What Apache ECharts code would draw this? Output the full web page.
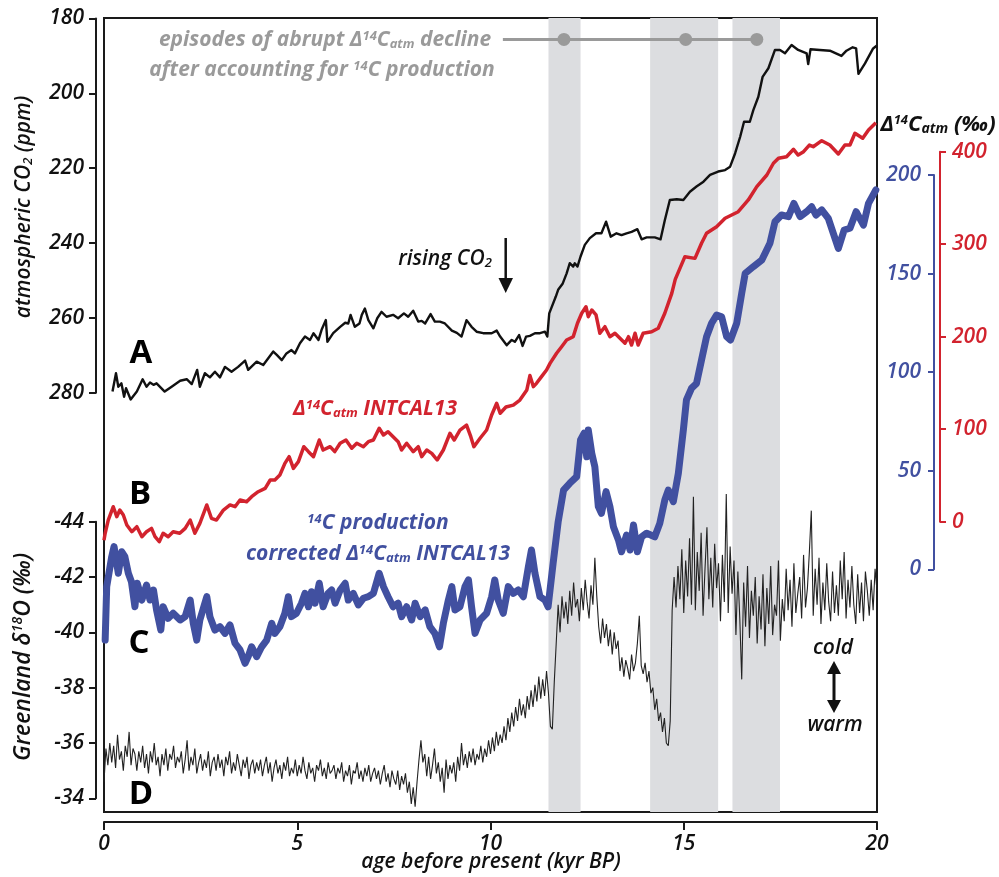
<!DOCTYPE html>
<html><head><meta charset="utf-8">
<script src="https://cdn.jsdelivr.net/npm/echarts@6/dist/echarts.min.js"></script>
<style>html,body{margin:0;padding:0;background:#fff}#c{width:999px;height:877px}</style>
</head><body><div id="c"></div>
<script>
// ---- data (age in kyr BP) ----
const co2 = [[0.22,279.7],[0.31,274.8],[0.37,278.4],[0.45,277.5],[0.52,281.1],[0.57,278.8],[0.69,281.8],[0.85,279.7],[1.0,276.4],[1.1,278.4],[1.19,277.3],[1.28,277.9],[1.36,277.5],[1.57,279.7],[1.75,278.4],[1.97,276.8],[2.14,276.4],[2.27,277.7],[2.41,273.9],[2.48,278.4],[2.61,274.8],[2.74,275.9],[2.87,274.4],[3.0,275.9],[3.13,273.1],[3.3,274.4],[3.47,273.1],[3.65,271.4],[3.73,273.9],[3.95,271.7],[4.12,272.6],[4.25,270.8],[4.38,269.0],[4.47,269.9],[4.6,271.3],[4.72,269.5],[4.85,268.6],[4.94,269.5],[5.07,266.8],[5.2,265.0],[5.33,265.9],[5.42,264.1],[5.55,265.9],[5.63,263.2],[5.74,260.6],[5.78,266.4],[5.93,264.1],[6.11,262.4],[6.24,261.3],[6.32,261.5],[6.38,259.2],[6.49,262.4],[6.61,261.5],[6.67,259.2],[6.75,257.5],[6.84,260.6],[6.97,262.8],[7.07,260.1],[7.18,258.4],[7.31,259.7],[7.48,259.2],[7.61,260.1],[7.76,258.8],[7.87,259.7],[8.0,258.1],[8.13,261.0],[8.22,260.8],[8.31,261.5],[8.45,259.0],[8.56,261.0],[8.69,261.0],[8.82,261.5],[9.0,263.4],[9.13,264.0],[9.25,265.0],[9.38,260.6],[9.51,262.4],[9.64,263.7],[9.81,264.1],[10.03,264.1],[10.16,263.4],[10.25,265.0],[10.42,267.3],[10.55,265.9],[10.63,266.4],[10.74,264.6],[10.83,267.5],[10.92,265.0],[11.02,264.8],[11.15,264.1],[11.28,264.1],[11.41,263.7],[11.47,265.0],[11.52,258.8],[11.69,254.3],[11.75,252.5],[11.87,250.8],[11.97,248.1],[12.05,245.4],[12.14,246.3],[12.18,245.4],[12.25,246.3],[12.33,243.6],[12.44,240.5],[12.57,238.7],[12.73,237.4],[12.87,237.4],[12.99,234.3],[13.11,238.3],[13.26,237.4],[13.39,237.9],[13.52,237.4],[13.65,237.0],[13.8,236.3],[13.91,239.0],[14.04,238.5],[14.25,238.5],[14.4,239.0],[14.51,233.9],[14.64,228.5],[14.82,228.3],[14.99,228.5],[15.16,226.3],[15.33,224.9],[15.51,223.6],[15.68,221.8],[15.89,220.9],[16.07,220.5],[16.2,219.6],[16.33,216.0],[16.46,211.6],[16.56,207.6],[16.71,207.6],[16.8,204.5],[16.93,200.9],[17.04,195.6],[17.19,193.3],[17.36,188.4],[17.49,188.4],[17.62,189.3],[17.79,187.1],[17.96,188.4],[18.18,189.3],[18.22,192.2],[18.28,188.2],[18.52,188.4],[18.78,188.6],[19.08,190.0],[19.21,188.6],[19.37,187.7],[19.46,188.0],[19.52,194.8],[19.69,192.0],[19.9,188.0],[19.99,187.3]];

const d14cIntcal = [[0.0,-20],[0.03,-12.5],[0.11,1.8],[0.24,16.2],[0.33,5.4],[0.41,12.6],[0.5,7.2],[0.59,-3.6],[0.72,-10.8],[0.85,-5.4],[0.98,-16.2],[1.1,-10.8],[1.23,-7.2],[1.32,-16.2],[1.43,-21.6],[1.53,-12.5],[1.66,-16.2],[1.79,-10.8],[1.96,-12.5],[2.1,-7.2],[2.23,1.8],[2.35,-12.5],[2.48,-1.8],[2.66,18.1],[2.78,3.7],[2.91,1.8],[3.09,12.6],[3.26,18.1],[3.39,16.2],[3.52,23.5],[3.69,21.6],[3.82,27.0],[3.99,32.4],[4.17,36.1],[4.3,45.1],[4.42,45.1],[4.55,50.5],[4.68,63.1],[4.79,70.3],[4.9,57.7],[5.03,64.9],[5.17,81.1],[5.29,75.7],[5.42,70.3],[5.57,88.3],[5.67,77.5],[5.85,81.1],[5.97,75.7],[6.11,84.8],[6.26,88.3],[6.41,79.4],[6.54,84.8],[6.71,81.1],[6.84,86.5],[6.97,88.3],[7.12,101.0],[7.23,93.7],[7.35,97.3],[7.48,91.9],[7.61,86.5],[7.7,77.5],[7.83,84.8],[8.0,75.7],[8.13,81.1],[8.22,70.3],[8.35,77.5],[8.48,73.9],[8.62,66.7],[8.78,77.5],[8.95,95.6],[9.06,88.3],[9.21,99.1],[9.38,104.5],[9.49,91.9],[9.57,81.1],[9.73,90.2],[9.9,99.1],[10.03,115.4],[10.16,128.0],[10.25,117.2],[10.4,124],[10.59,126],[10.76,131.5],[10.94,142.4],[11.02,158],[11.11,146],[11.19,149.6],[11.32,156.8],[11.45,164],[11.54,171.2],[11.71,182.1],[11.84,189.2],[11.97,196.4],[12.14,200],[12.25,214.5],[12.36,225.3],[12.47,232.4],[12.53,221.6],[12.62,228.9],[12.73,223.5],[12.83,203.7],[12.96,210.8],[13.09,200],[13.22,203.7],[13.35,198.3],[13.48,192.9],[13.57,200],[13.65,191],[13.74,203.7],[13.82,191],[13.95,203.7],[14.17,205.4],[14.34,209.1],[14.51,225.3],[14.69,246.9],[14.78,262],[15.03,286.5],[15.29,284.7],[15.46,301],[15.59,311.8],[15.85,318.9],[16.07,328],[16.24,331.6],[16.41,335.1],[16.67,347.8],[16.89,362.2],[17.15,374.8],[17.32,387.5],[17.45,392.9],[17.66,394.6],[17.84,402.6],[17.96,396.4],[18.1,400],[18.25,407.2],[18.35,405.4],[18.57,411.9],[18.78,407.2],[19.0,397.5],[19.17,407.2],[19.3,407.2],[19.43,419.9],[19.63,414.5],[19.78,423.5],[19.97,431.4]];

const d14cCorrected = [[0.03,-35.9],[0.07,-8.8],[0.2,6.4],[0.26,11.5],[0.37,-2.0],[0.46,8.9],[0.54,6.4],[0.63,-2.0],[0.71,-6.3],[0.8,-19.0],[0.86,-7.1],[0.98,-15.6],[1.1,-8.0],[1.19,-15.6],[1.28,-10.5],[1.36,-20.6],[1.47,-30.8],[1.53,-19.0],[1.66,-24.9],[1.79,-22.3],[1.97,-25.7],[2.1,-24.0],[2.23,-15.6],[2.31,-27.4],[2.4,-35.9],[2.48,-25.7],[2.66,-13.9],[2.74,-24.0],[2.87,-30.8],[3.0,-29.1],[3.13,-32.5],[3.26,-28.2],[3.39,-37.5],[3.52,-40.9],[3.65,-47.7],[3.73,-44.3],[3.82,-39.3],[3.95,-44.3],[4.08,-39.3],[4.21,-35.9],[4.34,-27.4],[4.42,-32.5],[4.55,-29.1],[4.68,-22.3],[4.77,-13.9],[4.85,-24.0],[4.98,-22.3],[5.11,-17.2],[5.2,-12.2],[5.29,-19.0],[5.37,-11.4],[5.46,-17.2],[5.57,-7.1],[5.67,-19.0],[5.8,-12.2],[5.89,-10.5],[5.98,-17.2],[6.11,-10.5],[6.24,-7.1],[6.32,-15.6],[6.45,-12.2],[6.58,-18.1],[6.71,-14.7],[6.84,-13.9],[6.97,-12.2],[7.12,-2.0],[7.23,-8.8],[7.35,-13.9],[7.48,-19.0],[7.61,-17.2],[7.7,-24.0],[7.83,-19.0],[7.96,-25.7],[8.05,-17.2],[8.18,-24.0],[8.31,-20.6],[8.43,-29.1],[8.56,-32.5],[8.68,-39.3],[8.78,-27.4],[8.91,-15.6],[9.0,-8.8],[9.08,-20.6],[9.21,-19.0],[9.34,-8.8],[9.43,-5.4],[9.51,-19.0],[9.6,-32.5],[9.73,-25.7],[9.9,-22.3],[10.03,-13.9],[10.11,-5.4],[10.2,-15.6],[10.33,-22.3],[10.46,-8.8],[10.59,-12.2],[10.72,-10.5],[10.85,-13.9],[10.98,1.3],[11.06,9.8],[11.15,-2.0],[11.28,-13.9],[11.41,-15.6],[11.49,-19.0],[11.62,3],[11.75,24],[11.89,40.2],[12.05,43.6],[12.23,47.0],[12.33,65.6],[12.42,69.0],[12.49,57.1],[12.53,70.7],[12.62,58.8],[12.7,52.0],[12.79,31.8],[12.87,28.4],[12.99,39.4],[13.09,31.8],[13.18,21.6],[13.31,14.9],[13.39,8.9],[13.52,17.4],[13.61,9.8],[13.7,22.5],[13.8,8.9],[13.91,16.5],[14.04,18.3],[14.25,16.5],[14.38,23.3],[14.51,35.2],[14.6,40.2],[14.73,34.3],[14.86,48.7],[14.99,70.7],[15.07,85.9],[15.2,91.8],[15.33,94.3],[15.46,106.2],[15.59,118.0],[15.72,124.8],[15.85,129.0],[15.98,128.1],[16.11,118.0],[16.21,116.3],[16.37,124.8],[16.5,140],[16.59,150.1],[16.8,153.5],[17.02,156.9],[17.23,165.4],[17.36,176.3],[17.53,179.7],[17.71,178.9],[17.85,185.6],[18.01,178.9],[18.18,181.4],[18.31,183.9],[18.42,179.7],[18.57,182.3],[18.74,178.0],[18.87,170.4],[19.0,162.8],[19.15,172.1],[19.3,173.0],[19.46,181.4],[19.65,174.6],[19.78,185.6],[19.97,192.4]];

const d18o = [
[0,-34.6],[0.05,-35.8],[0.1,-35.2],[0.15,-36.0],[0.2,-35.3],[0.25,-35.9],[0.3,-35.1],[0.35,-36.3],[0.4,-35.4],[0.45,-35.7],[0.5,-35.0],[0.55,-35.9],[0.6,-35.5],[0.65,-36.4],[0.7,-35.2],[0.75,-35.8],[0.8,-35.6],[0.85,-35.0],[0.9,-35.7],[0.95,-35.3],
[1,-35.9],[1.05,-35.1],[1.1,-35.6],[1.15,-34.9],[1.2,-35.7],[1.25,-35.3],[1.3,-36.0],[1.35,-35.2],[1.4,-35.5],[1.45,-34.8],[1.5,-35.6],[1.55,-35.2],[1.6,-35.8],[1.65,-35.0],[1.7,-35.6],[1.75,-35.4],[1.8,-35.9],[1.85,-35.1],[1.9,-35.5],[1.95,-35.3],
[2,-35.7],[2.05,-34.9],[2.1,-35.4],[2.15,-36.1],[2.2,-35.0],[2.25,-35.5],[2.3,-35.2],[2.35,-35.8],[2.4,-34.9],[2.45,-35.3],[2.5,-35.6],[2.55,-35.0],[2.6,-35.4],[2.65,-35.1],[2.7,-35.7],[2.75,-34.8],[2.8,-35.3],[2.85,-35.5],[2.9,-35.0],[2.95,-35.6],
[3,-35.1],[3.05,-35.4],[3.1,-34.8],[3.15,-35.5],[3.2,-35.2],[3.25,-35.7],[3.3,-34.9],[3.35,-35.3],[3.4,-35.0],[3.45,-35.6],[3.5,-35.2],[3.55,-34.8],[3.6,-35.4],[3.65,-35.1],[3.7,-35.5],[3.75,-34.7],[3.8,-35.2],[3.85,-35.4],[3.9,-34.9],[3.95,-35.3],
[4,-35.0],[4.05,-35.4],[4.1,-34.8],[4.15,-35.2],[4.2,-35.5],[4.25,-34.9],[4.3,-35.3],[4.35,-34.6],[4.4,-35.1],[4.45,-35.4],[4.5,-34.9],[4.55,-35.2],[4.6,-34.7],[4.65,-35.3],[4.7,-35.0],[4.75,-35.5],[4.8,-34.8],[4.85,-35.1],[4.9,-34.9],[4.95,-35.4],
[5,-34.8],[5.05,-35.2],[5.1,-34.9],[5.15,-35.5],[5.2,-35.0],[5.25,-34.7],[5.3,-35.3],[5.35,-34.9],[5.4,-35.1],[5.45,-34.6],[5.5,-35.2],[5.55,-35.0],[5.6,-35.4],[5.65,-34.8],[5.7,-35.1],[5.75,-34.7],[5.8,-35.3],[5.85,-34.9],[5.9,-35.0],[5.95,-35.2],
[6,-34.7],[6.05,-35.1],[6.1,-34.9],[6.15,-35.3],[6.2,-34.6],[6.25,-35.0],[6.3,-34.8],[6.35,-35.2],[6.4,-34.5],[6.45,-35.0],[6.5,-34.9],[6.55,-35.3],[6.6,-34.7],[6.65,-35.0],[6.7,-34.6],[6.75,-35.1],[6.8,-34.8],[6.85,-35.2],[6.9,-34.6],[6.95,-34.9],
[7,-35.1],[7.05,-34.7],[7.1,-35.0],[7.15,-34.5],[7.2,-34.9],[7.25,-35.2],[7.3,-34.6],[7.35,-34.9],[7.4,-34.4],[7.45,-35.0],[7.5,-34.7],[7.55,-34.5],[7.6,-35.0],[7.65,-34.3],[7.7,-34.8],[7.75,-34.5],[7.8,-34.9],[7.85,-34.2],[7.9,-34.6],[7.95,-33.8],
[8,-34.4],[8.05,-33.7],[8.1,-34.6],[8.15,-35.4],[8.2,-36.1],[8.25,-35.3],[8.3,-35.6],[8.35,-34.8],[8.4,-35.5],[8.45,-34.7],[8.5,-35.2],[8.55,-35.8],[8.6,-34.9],[8.65,-35.3],[8.7,-34.6],[8.75,-35.1],[8.8,-34.2],[8.85,-35.4],[8.9,-34.7],[8.95,-35.2],
[9,-34.9],[9.05,-35.3],[9.1,-34.6],[9.15,-35.5],[9.2,-35.0],[9.25,-36.0],[9.3,-35.2],[9.35,-35.6],[9.4,-35.1],[9.45,-35.7],[9.5,-35.3],[9.55,-35.8],[9.6,-35.2],[9.65,-35.6],[9.7,-35.4],[9.75,-35.9],[9.8,-35.3],[9.85,-35.8],[9.9,-35.5],[9.95,-36.1],
[10,-35.6],[10.05,-36.2],[10.1,-35.7],[10.15,-36.4],[10.2,-35.9],[10.25,-36.3],[10.3,-36.0],[10.35,-36.6],[10.4,-36.1],[10.45,-36.9],[10.5,-36.4],[10.55,-37.1],[10.6,-36.6],[10.65,-37.3],[10.7,-36.8],[10.75,-37.6],[10.8,-37.0],[10.85,-37.4],[10.9,-36.9],[10.95,-37.7],
[11,-37.2],[11.05,-37.9],[11.1,-37.3],[11.15,-38.1],[11.2,-37.5],[11.25,-38.4],[11.3,-37.6],[11.35,-38.3],[11.4,-37.7],[11.45,-38.6],[11.5,-37.8],[11.55,-36.6],[11.6,-36.5],[11.65,-38.2],[11.7,-39.6],[11.75,-41.0],[11.8,-40.0],[11.85,-41.3],[11.9,-40.5],[11.95,-41.1],
[12,-40.3],[12.05,-41.5],[12.1,-40.6],[12.15,-41.8],[12.2,-40.9],[12.25,-41.2],[12.3,-40.4],[12.35,-41.6],[12.4,-40.8],[12.45,-41.9],[12.5,-41.1],[12.55,-40.5],[12.6,-41.7],[12.65,-41.0],[12.7,-42.7],[12.75,-41.3],[12.8,-40.2],[12.85,-39.6],[12.9,-40.5],[12.95,-39.8],
[13,-40.3],[13.05,-39.5],[13.1,-40.1],[13.15,-39.2],[13.2,-40.0],[13.25,-39.4],[13.3,-39.7],[13.35,-38.6],[13.4,-39.1],[13.45,-38.4],[13.5,-39.0],[13.55,-38.7],[13.6,-38.3],[13.65,-39.2],[13.7,-38.6],[13.75,-38.9],[13.8,-39.6],[13.85,-40.6],[13.9,-38.8],[13.95,-38.5],
[14,-38.9],[14.05,-38.2],[14.1,-38.6],[14.15,-37.8],[14.2,-38.0],[14.25,-37.2],[14.3,-37.6],[14.35,-36.8],[14.4,-37.1],[14.45,-36.4],[14.5,-36.9],[14.55,-36.0],[14.6,-35.9],[14.65,-36.8],[14.7,-40.8],[14.75,-42.0],[14.8,-40.9],[14.85,-42.4],[14.9,-41.2],[14.95,-43.0],
[15,-40.7],[15.05,-42.6],[15.1,-41.3],[15.15,-43.4],[15.2,-41.0],[15.25,-44.9],[15.3,-40.8],[15.35,-42.9],[15.4,-41.5],[15.45,-43.6],[15.5,-40.6],[15.55,-42.3],[15.6,-43.8],[15.65,-41.2],[15.7,-42.7],[15.75,-40.9],[15.8,-43.2],[15.85,-41.6],[15.9,-42.5],[15.95,-40.4],
[16,-42.8],[16.05,-41.1],[16.1,-45.0],[16.15,-40.7],[16.2,-43.1],[16.25,-41.4],[16.3,-42.6],[16.35,-39.9],[16.4,-42.2],[16.45,-40.5],[16.5,-38.3],[16.55,-41.8],[16.6,-40.2],[16.65,-42.4],[16.7,-39.8],[16.75,-41.5],[16.8,-40.6],[16.85,-42.0],[16.9,-39.6],[16.95,-41.3],
[17,-40.1],[17.05,-42.1],[17.1,-39.5],[17.15,-41.6],[17.2,-40.3],[17.25,-42.4],[17.3,-39.9],[17.35,-41.0],[17.4,-40.6],[17.45,-42.6],[17.5,-39.7],[17.55,-41.2],[17.6,-40.4],[17.65,-42.3],[17.7,-40.8],[17.75,-41.9],[17.8,-40.2],[17.85,-42.5],[17.9,-40.7],[17.95,-41.4],
[18,-42.0],[18.05,-40.5],[18.1,-42.8],[18.15,-40.9],[18.2,-41.6],[18.25,-42.9],[18.3,-44.4],[18.35,-40.6],[18.4,-42.3],[18.45,-41.0],[18.5,-42.7],[18.55,-40.3],[18.6,-41.8],[18.65,-40.8],[18.7,-42.5],[18.75,-41.1],[18.8,-40.4],[18.85,-42.2],[18.9,-40.7],[18.95,-41.7],
[19,-40.6],[19.05,-42.6],[19.1,-41.2],[19.15,-42.9],[19.2,-40.5],[19.25,-41.9],[19.3,-40.9],[19.35,-42.4],[19.4,-41.0],[19.45,-40.3],[19.5,-42.1],[19.55,-40.7],[19.6,-41.8],[19.65,-40.4],[19.7,-42.2],[19.75,-41.5],[19.8,-40.6],[19.85,-41.9],[19.9,-40.8],[19.95,-42.3],[20,-41.5]];

const episodeBands = [[11.5,12.33],[14.13,15.89],[16.26,17.49]];
const episodeDots = [11.9,15.05,16.89];
const episodeLineStart = 10.32;

// ---- rendering ----
const FONT = "'Open Sans','Noto Sans',sans-serif";
const RED = '#d2232e', BLUE = '#4150a0', GRAY = '#9a9a9a', BAND = '#dcdde0';
const L = 104, R = 122;
const chart = echarts.init(document.getElementById('c'), null, {renderer:'canvas'});

function rich(color, size, weight){
  const base = {fontFamily:FONT, fontStyle:'italic', fontWeight:weight, fill:color};
  return {
    n: Object.assign({fontSize:size}, base),
    sup: Object.assign({fontSize:Math.round(size*0.6), verticalAlign:'top'}, base),
    sub: Object.assign({fontSize:Math.round(size*0.62), verticalAlign:'bottom'}, base)
  };
}
function T(x, y, text, size, color, weight, extra){
  return Object.assign({type:'text', x:x, y:y, silent:true, z:100,
    style:{text:text, rich:rich(color,size,weight), fontFamily:FONT, fontSize:size, fontStyle:'italic', fontWeight:weight, fill:color, align:'center', verticalAlign:'middle'}}, extra||{});
}
function P(x, y, letter){
  return {type:'text', x:x, y:y, silent:true, z:100,
    style:{text:letter, fontFamily:FONT, fontSize:33, fontWeight:'bold', fill:'#000', align:'center', verticalAlign:'middle'}};
}
function tri(pts, color){ return {type:'polygon', silent:true, z:100, shape:{points:pts}, style:{fill:color}}; }
function seg(x1,y1,x2,y2,w,color){ return {type:'line', silent:true, z:100, shape:{x1,y1,x2,y2}, style:{stroke:color, lineWidth:w}}; }

const hidX = i => ({type:'value', gridIndex:i, min:0, max:20, show:false});
const axisLbl = (color, extra) => Object.assign({color:color, fontFamily:FONT, fontStyle:'italic', fontWeight:600, fontSize:21}, extra||{});
const aLine = c => ({show:true, onZero:false, lineStyle:{color:c, width:2}});

const option = {
  animation:false,
  backgroundColor:'#fff',
  grid:[
    {left:L, right:R, top:18, height:794, show:true, borderColor:'#1a1a1a', borderWidth:2, backgroundColor:'transparent'},
    {left:L, right:R, top:18.5, height:374.2},
    {left:L, right:R, top:521.7, height:276.6},
    {left:L, right:R, top:151.7, height:370},
    {left:L, right:R, top:175, height:394.3}
  ],
  xAxis:[
    {type:'value', gridIndex:0, min:0, max:20, interval:5, position:'bottom', offset:10,
     axisLine:aLine('#1a1a1a'),
     axisTick:{show:true, length:8, lineStyle:{color:'#1a1a1a', width:2}},
     axisLabel:axisLbl('#111', {margin:12}), splitLine:{show:false}},
    hidX(1), hidX(2), hidX(3), hidX(4)
  ],
  yAxis:[
    {type:'value', gridIndex:0, min:0, max:1, show:false},
    {type:'value', gridIndex:1, min:180, max:280, interval:20, inverse:true, position:'left', offset:8,
     axisLine:aLine('#1a1a1a'),
     axisTick:{show:true, length:7, lineStyle:{color:'#1a1a1a', width:2}},
     axisLabel:axisLbl('#111', {margin:12}), splitLine:{show:false}},
    {type:'value', gridIndex:2, min:-44, max:-34, interval:2, inverse:true, position:'left', offset:8,
     axisLine:aLine('#1a1a1a'),
     axisTick:{show:true, length:7, lineStyle:{color:'#1a1a1a', width:2}},
     axisLabel:axisLbl('#111', {margin:12}), splitLine:{show:false}},
    {type:'value', gridIndex:3, min:0, max:400, interval:100, position:'right', offset:63,
     axisLine:aLine(RED),
     axisTick:{show:true, length:6, lineStyle:{color:RED, width:2}},
     axisLabel:axisLbl(RED, {margin:12}), splitLine:{show:false}},
    {type:'value', gridIndex:4, min:0, max:200, interval:50, position:'right', offset:57,
     axisLine:aLine(BLUE),
     axisTick:{show:true, inside:true, length:6, lineStyle:{color:BLUE, width:2}},
     axisLabel:axisLbl(BLUE, {inside:true, margin:13}), splitLine:{show:false}}
  ],
  series:[
    {type:'line', xAxisIndex:0, yAxisIndex:0, data:[], silent:true, z:1,
     markArea:{silent:true, itemStyle:{color:BAND}, data: episodeBands.map(b=>[{xAxis:b[0]},{xAxis:b[1]}])}},
    {name:'Greenland d18O', type:'line', xAxisIndex:2, yAxisIndex:2, data:d18o, symbol:'none', clip:false, z:3,
     lineStyle:{width:1.1, color:'#222'}},
    {name:'corrected', type:'line', xAxisIndex:4, yAxisIndex:4, data:d14cCorrected, symbol:'none', clip:false, z:4,
     lineStyle:{width:7, color:BLUE, join:'round', cap:'round'}},
    {name:'INTCAL13', type:'line', xAxisIndex:3, yAxisIndex:3, data:d14cIntcal, symbol:'none', clip:false, z:5,
     lineStyle:{width:3.5, color:RED, join:'round'}},
    {name:'CO2', type:'line', xAxisIndex:1, yAxisIndex:1, data:co2, symbol:'none', clip:false, z:6,
     lineStyle:{width:2.4, color:'#111', join:'round'}},
    {name:'episodes', type:'line', xAxisIndex:1, yAxisIndex:1, clip:false, z:7, silent:true,
     data:[{value:[episodeLineStart,185.6], symbolSize:0}].concat(episodeDots.map(a=>({value:[a,185.6]}))),
     symbol:'circle', symbolSize:13, showSymbol:true, itemStyle:{color:GRAY},
     lineStyle:{width:3, color:GRAY}}
  ],
  graphic:[
    T(325, 40, '{n|episodes of abrupt Δ}{sup|14}{n|C}{sub|atm}{n| decline}', 21, GRAY, 'bold'),
    T(322, 70, '{n|after accounting for }{sup|14}{n|C production}', 21, GRAY, 'bold'),
    P(141, 354, 'A'), P(140, 495, 'B'), P(139, 644, 'C'), P(141, 795, 'D'),
    T(445, 259, '{n|rising CO}{sub|2}', 21, '#111', 600),
    seg(505.7, 238, 505.7, 282, 2.5, '#111'),
    tri([[498.5,278],[513,278],[505.7,293]], '#111'),
    T(375, 409, '{n|Δ}{sup|14}{n|C}{sub|atm}{n| INTCAL13}', 21, RED, 'bold'),
    T(378, 523, '{sup|14}{n|C production}', 21, BLUE, 'bold'),
    T(378, 554, '{n|corrected Δ}{sup|14}{n|C}{sub|atm}{n| INTCAL13}', 21, BLUE, 'bold'),
    T(833, 648, 'cold', 21, '#111', 600),
    T(835, 725, 'warm', 21, '#111', 600),
    seg(834, 668, 834, 706, 3, '#111'),
    tri([[827,674],[841,674],[834,661]], '#111'),
    tri([[827,700],[841,700],[834,713]], '#111'),
    T(938, 125, '{n|Δ}{sup|14}{n|C}{sub|atm}{n| (‰)}', 22, '#111', 'bold'),
    T(24, 207, '{n|atmospheric CO}{sub|2}{n| (ppm)}', 21, '#111', 600, {rotation:Math.PI/2}),
    T(23, 657, '{n|Greenland δ}{sup|18}{n|O (‰)}', 23, '#111', 600, {rotation:Math.PI/2}),
    T(491, 862, 'age before present (kyr BP)', 21, '#111', 600)
  ]
};
chart.setOption(option);
</script>
</body></html>
